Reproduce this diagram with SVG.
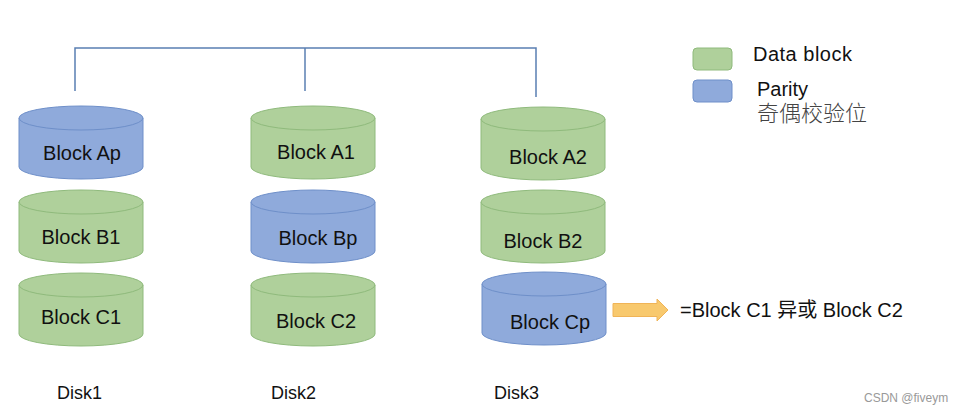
<svg xmlns="http://www.w3.org/2000/svg" xmlns:xlink="http://www.w3.org/1999/xlink" width="957" height="417" viewBox="0 0 957 417">
<style>
.g{fill:#AFD09B;stroke:#8FBA7C;stroke-width:1}
.b{fill:#8FAADB;stroke:#6E8FC9;stroke-width:1}
.lbl{font-family:"Liberation Sans",Arial,sans-serif;font-size:20px;fill:#111;text-anchor:middle}
.disk{font-family:"Liberation Sans",Arial,sans-serif;font-size:18px;fill:#111}
.leg{font-family:"Liberation Sans",Arial,sans-serif;font-size:20px;fill:#111}
.cn{font-family:"Liberation Sans","Noto Sans CJK SC",sans-serif}
.conn{fill:none;stroke:#5A7FB2;stroke-width:1.5}
</style>
<defs>
<g id="cyl">
<path d="M-62,12 L-62,61 A62 12 0 0 0 62,61 L62,12 Z"/>
<ellipse cx="0" cy="12" rx="62" ry="12"/>
</g>
</defs>
<rect width="957" height="417" fill="#FFFFFF"/>
<g id="connectors">
<path class="conn" d="M75,91 V48 H536 V97"/>
<path class="conn" d="M305,48 V91"/>
</g>
<g id="disk1">
<use xlink:href="#cyl" class="b" x="81" y="106"/>
<text class="lbl" x="82" y="160">Block Ap</text>
<use xlink:href="#cyl" class="g" x="81" y="190"/>
<text class="lbl" x="81" y="244">Block B1</text>
<use xlink:href="#cyl" class="g" x="81" y="273"/>
<text class="lbl" x="81" y="324">Block C1</text>
<text class="disk" x="57" y="399">Disk1</text>
</g>
<g id="disk2">
<use xlink:href="#cyl" class="g" x="313" y="106"/>
<text class="lbl" x="316" y="159">Block A1</text>
<use xlink:href="#cyl" class="b" x="313" y="190"/>
<text class="lbl" x="318" y="245">Block Bp</text>
<use xlink:href="#cyl" class="g" x="313" y="273"/>
<text class="lbl" x="316" y="328">Block C2</text>
<text class="disk" x="271" y="399">Disk2</text>
</g>
<g id="disk3">
<use xlink:href="#cyl" class="g" x="543" y="107"/>
<text class="lbl" x="548" y="164">Block A2</text>
<use xlink:href="#cyl" class="g" x="543" y="190"/>
<text class="lbl" x="543" y="248">Block B2</text>
<use xlink:href="#cyl" class="b" x="544" y="272"/>
<text class="lbl" x="550" y="329">Block Cp</text>
<text class="disk" x="494" y="399">Disk3</text>
</g>
<g id="xor-note">
<path d="M613,303.5 H657 V299 L668,310 L657,321 V316.5 H613 Z" fill="#F8C96E" stroke="#F0B457" stroke-width="1"/>
<text class="leg cn" x="680" y="317">=Block C1 异或 Block C2</text>
</g>
<g id="legend">
<rect x="693" y="48" width="39" height="22" rx="4" class="g"/>
<text class="leg" x="753" y="61" letter-spacing="0.5">Data block</text>
<rect x="693" y="80" width="39" height="22" rx="4" class="b"/>
<text class="leg" x="757" y="96">Parity</text>
<text class="cn" x="757" y="121" font-size="22" font-weight="300" fill="#444">奇偶校验位</text>
</g>
<text x="864" y="402" font-family="Liberation Sans,Arial,sans-serif" font-size="12" fill="#999">CSDN @fiveym</text>
</svg>
